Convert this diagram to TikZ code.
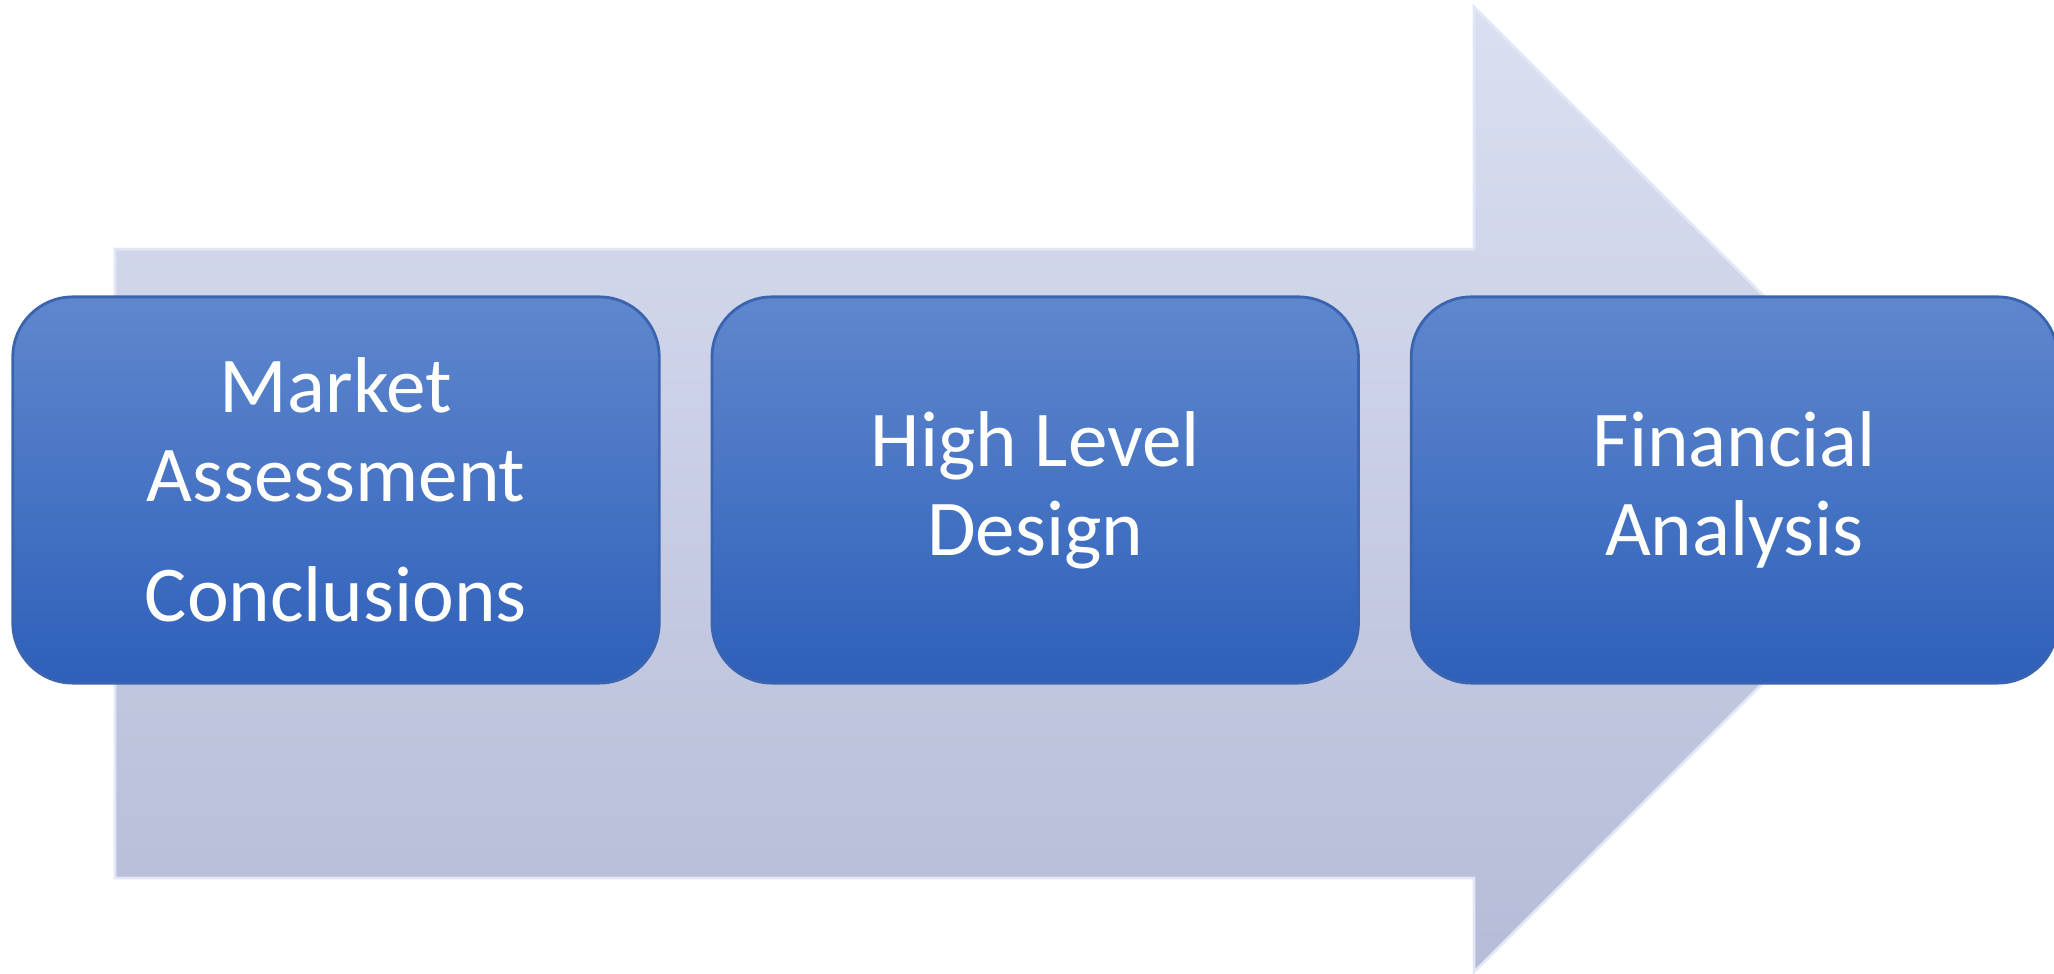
\documentclass[tikz,border=0pt]{standalone}
\usepackage{fontspec}
\setmainfont{Carlito}
\usepackage{tikz}
\usetikzlibrary{positioning}
\definecolor{pfeiloben}{HTML}{DADFF1}
\definecolor{pfeilunten}{HTML}{B6BCD7}
\definecolor{pfeilrand}{HTML}{E2E7F8}
\definecolor{kastenoben}{HTML}{5F87CD}
\definecolor{kastenunten}{HTML}{2E60BA}
\definecolor{kastenrand}{HTML}{3A64B0}

\begin{document}
\begin{tikzpicture}[
    x=0.01cm, y=-0.01cm,
    every node/.style={font=\fontsize{22.5}{25.3}\selectfont},
    kasten/.style={rectangle, rounded corners=0.6cm,
      minimum width=6.46cm, minimum height=3.86cm, inner sep=0pt,
      top color=kastenoben, bottom color=kastenunten,
      draw=kastenrand, line width=0.8pt, text=white, align=center},
  ]
  \useasboundingbox (0,0) rectangle (2054,974);

  % Pfeil (Hintergrund)
  \shade[top color=pfeiloben, bottom color=pfeilunten, draw=pfeilrand, line width=0.8pt]
    (115,249) -- (1474,249) -- (1474,7) -- (1957,489)
    -- (1474,972) -- (1474,878) -- (115,878) -- cycle;

  % drei Schritte
  \node[kasten] (markt) at (336,490) {Market\\Assessment\\[9pt]Conclusions};
  \node[kasten, right=0.5cm of markt] (entwurf) {High Level\\Design};
  \node[kasten, right=0.5cm of entwurf] (finanz) {Financial\\Analysis};
\end{tikzpicture}
\end{document}
